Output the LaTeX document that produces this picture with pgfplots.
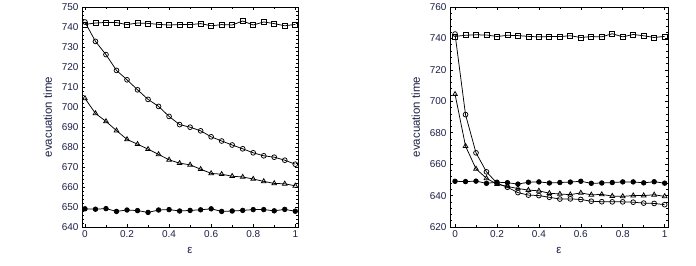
\documentclass[border=0pt]{standalone}
\usepackage{fontspec}
\setmainfont{Liberation Sans}
\usepackage{pgfplots}
\pgfplotsset{compat=1.18}
\definecolor{txt}{RGB}{28,32,70}
\pgfplotstableread{
x sq ci tr fc
0 741.3 742.5 704.3 649.1
0.05 742.0 732.8 696.8 648.9
0.1 742.3 726.2 692.8 649.2
0.15 742.2 718.3 688.2 647.8
0.2 741.2 713.6 683.8 648.5
0.25 742.0 708.6 681.4 648.2
0.3 741.8 703.8 678.9 647.3
0.35 741.3 700.3 676.3 648.5
0.4 741.0 695.3 673.6 648.7
0.45 741.2 691.2 671.9 648.0
0.5 741.2 689.9 671.1 648.3
0.55 741.7 688.1 668.9 648.6
0.6 740.6 685.1 666.8 649.1
0.65 741.2 683.0 666.4 647.8
0.7 741.0 681.0 665.4 648.0
0.75 743.0 679.1 665.0 648.3
0.8 741.0 677.1 664.0 648.7
0.85 742.5 675.6 662.8 648.7
0.9 741.7 674.9 661.8 648.1
0.95 740.6 673.4 661.6 648.8
1 741.3 671.4 660.6 647.9
}\left
\pgfplotstableread{
x sq ci tr fc
0 741.3 742.8 704.5 649.1
0.05 742.0 691.5 671.5 648.9
0.1 742.3 667.2 657.0 649.2
0.15 742.2 655.1 651.0 647.8
0.2 741.2 647.9 647.2 648.5
0.25 742.0 645.3 645.8 648.2
0.3 741.8 641.9 644.5 647.3
0.35 741.3 640.3 643.5 648.5
0.4 741.0 640.0 643.0 648.7
0.45 741.2 638.9 641.5 648.0
0.5 741.2 637.8 641.0 648.3
0.55 741.7 637.9 640.6 648.6
0.6 740.6 637.5 641.7 649.1
0.65 741.2 636.4 640.5 647.8
0.7 741.0 636.1 640.7 648.0
0.75 743.0 636.0 639.7 648.3
0.8 741.0 636.0 639.5 648.7
0.85 742.5 635.8 640.0 648.7
0.9 741.7 635.2 640.0 648.1
0.95 740.6 635.0 640.5 648.8
1 741.3 634.2 639.5 647.9
}\right
\pgfplotsset{
  myax/.style={
    scale only axis, height=220bp,
    anchor=south west,
    axis line style={black, line width=0.9pt},
    tick style={black, line width=0.6pt},
    major tick length=3bp, minor tick length=1.6bp,
    tick align=inside,
    xtick={0,0.2,...,1}, minor x tick num=1,
    minor y tick num=4,
    xticklabels={0,0.2,0.4,0.6,0.8,1},
    ticklabel style={font=\fontsize{10}{12}\selectfont, text=txt},
    /pgf/number format/assume math mode=true,
    label style={font=\fontsize{11.5}{13}\selectfont, text=txt},
    xlabel={ε},
    ylabel={evacuation time},
    xlabel style={yshift=-3bp},
    ylabel style={yshift=3bp},
    every axis plot/.append style={black, line width=0.75pt, mark options={line width=0.75pt, solid}},
  }
}
\begin{document}
\begin{tikzpicture}[x=1bp,y=1bp]
\path[use as bounding box] (0,0) rectangle (696,265);
\begin{axis}[myax, at={(82bp,38bp)}, width=216bp,
  xmin=-0.014, xmax=1.013, ymin=640, ymax=750, ytick={640,650,...,750}]
\addplot[mark=square, mark size=2.5bp] table[x=x,y=sq]{\left};
\addplot[mark=o, mark size=2.4bp] table[x=x,y=ci]{\left};
\addplot[mark=triangle, mark size=2.7bp] table[x=x,y=tr]{\left};
\addplot[mark=*, mark size=2.3bp] table[x=x,y=fc]{\left};
\end{axis}
\begin{axis}[myax, at={(450bp,38bp)}, width=218bp,
  xmin=-0.024, xmax=1.016, ymin=620, ymax=760, ytick={620,640,...,760}]
\addplot[mark=square, mark size=2.5bp] table[x=x,y=sq]{\right};
\addplot[mark=o, mark size=2.4bp] table[x=x,y=ci]{\right};
\addplot[mark=triangle, mark size=2.7bp] table[x=x,y=tr]{\right};
\addplot[mark=*, mark size=2.3bp] table[x=x,y=fc]{\right};
\end{axis}
\end{tikzpicture}
\end{document}
